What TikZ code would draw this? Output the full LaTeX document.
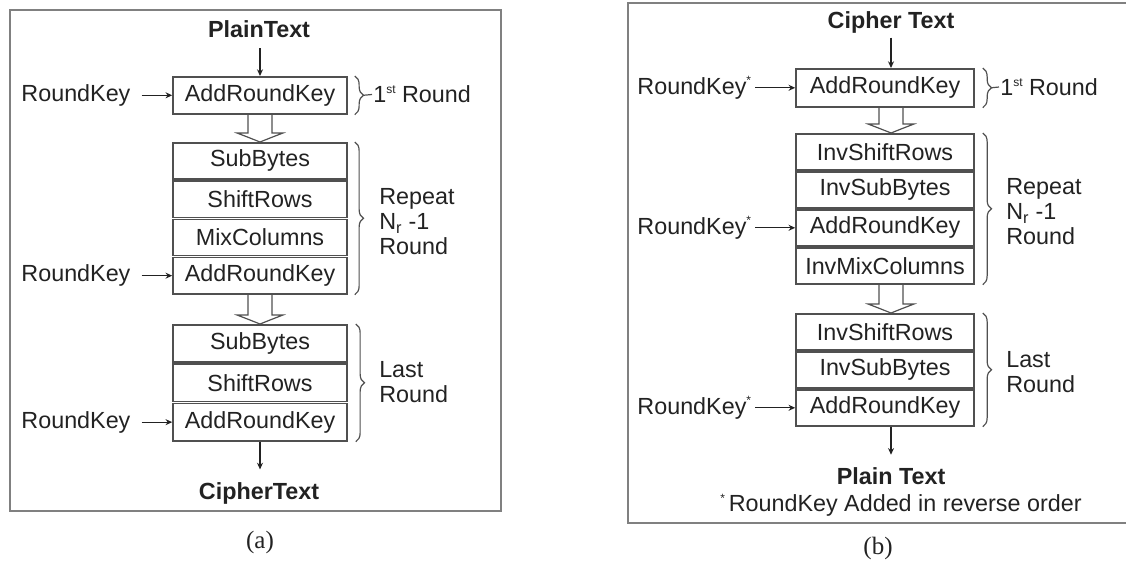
\documentclass[tikz,border=0pt]{standalone}
\usepackage{fontspec}
\setmainfont{Liberation Sans}
\newfontfamily\capfont{Liberation Serif}
\usetikzlibrary{calc,arrows.meta,decorations.pathreplacing}
\definecolor{txt}{HTML}{222222}
\definecolor{boxc}{HTML}{505050}
\definecolor{frm}{HTML}{808080}
\newcommand\bodyf{\fontsize{17.5}{18.75}\selectfont}
\newcommand\tinysup[1]{\raisebox{0.75ex}{\fontsize{9}{9}\selectfont #1}}
\newcommand\holarrow[3]{%
 \draw[hol] ($(#1.south)+(#3-12,0)$) -- ($(#2.north)+(#3-12,-9)$) -- ($(#2.north)+(#3-23,-9)$)
   .. controls ($(#2.north)+(#3-10,-4)$) .. ($(#2.north)+(#3,0)$)
   .. controls ($(#2.north)+(#3+10,-4)$) .. ($(#2.north)+(#3+23,-9)$)
   -- ($(#2.north)+(#3+12,-9)$) -- ($(#1.south)+(#3+12,0)$);}
\begin{document}
\begin{tikzpicture}[x=0.75pt,y=-0.75pt,
  every node/.style={text=txt},
  row/.style={draw=boxc, line width=1.2pt, inner sep=0pt, anchor=north, font=\bodyf},
  rowa/.style={row, minimum width=130.5pt},
  rowb/.style={row, minimum width=133.5pt},
  lbl/.style={font=\bodyf, inner sep=0pt, anchor=west},
  ttl/.style={font=\bodyf\bfseries},
  side/.style={font=\bodyf, inner sep=0pt, anchor=west, align=left},
  capf/.style={font=\capfont\fontsize{18.75}{20}\selectfont},
  arr/.style={draw=txt, line width=0.9pt, -{Stealth[length=5pt,width=4.5pt]}},
  brc/.style={draw=boxc, line width=0.9pt, decorate, decoration={brace, amplitude=6.5pt}},
  tip/.style={draw=boxc, line width=0.9pt},
  hol/.style={draw=boxc, line width=0.9pt},
  frame/.style={draw=frm, line width=1.5pt}]
\useasboundingbox (0,0) rectangle (1126,563);
\clip (0,0) rectangle (1126,563);
% ---------- (a) ----------
\draw[frame] (10,10) rectangle (501,511);
\node[rowa, minimum height=27.75pt] (a1) at (260,76) {AddRoundKey};
\node[rowa, minimum height=27.19pt] (a2a) at (260,142) {SubBytes};
\node[rowa, minimum height=27.19pt] (a2b) at (260,180.25) {ShiftRows};
\node[rowa, minimum height=27.19pt] (a2c) at (260,218.5) {MixColumns};
\node[rowa, minimum height=27.19pt] (a2d) at (260,256.75) {AddRoundKey};
\node[rowa, minimum height=28pt] (a3a) at (260,324) {SubBytes};
\node[rowa, minimum height=28pt] (a3b) at (260,363.33) {ShiftRows};
\node[rowa, minimum height=28pt] (a3c) at (260,402.67) {AddRoundKey};
\node[ttl] (pta) at (259,29) {PlainText};
\node[ttl] (cta) at (259,493) {CipherText};
\draw[arr, shorten <=4.5pt] (a1.north |- pta.south) -- (a1.north);
\draw[arr, shorten >=6pt] (a3c.south) -- (a3c.south |- cta.north);
\node[lbl] (ka1) at ($(a1.west)+(-151,0)$) {RoundKey};
\node[lbl] (ka2) at ($(a2d.west)+(-151,0)$) {RoundKey};
\node[lbl] (ka3) at ($(a3c.west)+(-151,0)$) {RoundKey};
\draw[arr, shorten <=8.25pt] (ka1.east) -- (a1.west);
\draw[arr, shorten <=8.25pt] (ka2.east) -- (a2d.west);
\draw[arr, shorten <=8.25pt] (ka3.east) -- (a3c.west);
\holarrow{a1}{a2a}{0}
\holarrow{a2d}{a3a}{0}
\draw[brc] ($(a1.north east)+(7,0)$) -- ($(a1.south east)+(7,0)$);
\draw[brc] ($(a2a.north east)+(7,0)$) -- ($(a2d.south east)+(7,0)$);
\draw[brc] ($(a3a.north east)+(8,0)$) -- ($(a3c.south east)+(8,0)$);
\node[side] (r1a) at (373,94.5) {1\tinysup{st} Round};
\draw[tip] ($(a1.east)+(15.5,0)$) -- ($(r1a.west)+(-1,0)$);
\node[side] (r2a) at (379,222) {Repeat\\N\textsubscript{r} -1\\Round};
\node[side] (r3a) at (379,382) {Last\\Round};
\node[capf] (capa) at (260,542) {(a)};
% ---------- (b) ----------
\draw[frame] (628,3) rectangle (1140,523);
\node[rowb, minimum height=28.5pt] (b1) at (885,68) {AddRoundKey};
\node[rowb, minimum height=27pt] (b2a) at (885,133) {InvShiftRows};
\node[rowb, minimum height=27pt] (b2b) at (885,171) {InvSubBytes};
\node[rowb, minimum height=27pt] (b2c) at (885,209) {AddRoundKey};
\node[rowb, minimum height=27pt] (b2d) at (885,247) {InvMixColumns};
\node[rowb, minimum height=27pt] (b3a) at (885,313) {InvShiftRows};
\node[rowb, minimum height=27pt] (b3b) at (885,351) {InvSubBytes};
\node[rowb, minimum height=27pt] (b3c) at (885,389) {AddRoundKey};
\node[ttl] (ctb) at (891,22) {Cipher Text};
\node[ttl] (ptb) at (891,476) {Plain Text};
\draw[arr] (ctb.south) -- (ctb.south |- b1.north);
\draw[arr, shorten >=6pt] (ptb.north |- b3c.south) -- (ptb.north);
\node[lbl] (kb1) at ($(b1.west)+(-158,0)$) {RoundKey\tinysup{*}};
\node[lbl] (kb2) at ($(b2c.west)+(-158,0)$) {RoundKey\tinysup{*}};
\node[lbl] (kb3) at ($(b3c.west)+(-158,0)$) {RoundKey\tinysup{*}};
\draw[arr, shorten <=3pt] (kb1.east) -- (b1.west);
\draw[arr, shorten <=3pt] (kb2.east) -- (b2c.west);
\draw[arr, shorten <=3pt] (kb3.east) -- (b3c.west);
\holarrow{b1}{b2a}{6}
\holarrow{b2d}{b3a}{6}
\draw[brc] ($(b1.north east)+(8,0)$) -- ($(b1.south east)+(8,0)$);
\draw[brc] ($(b2a.north east)+(8,0)$) -- ($(b2d.south east)+(8,0)$);
\draw[brc] ($(b3a.north east)+(8,0)$) -- ($(b3c.south east)+(8,0)$);
\node[side] (r1b) at (1000,87) {1\tinysup{st} Round};
\draw[tip] ($(b1.east)+(16.5,0)$) -- ($(r1b.west)+(-1,0)$);
\node[side] (r2b) at (1006,212) {Repeat\\N\textsubscript{r} -1\\Round};
\node[side] (r3b) at (1006,372) {Last\\Round};
\node[lbl] (note) at (720,505) {\tinysup{*}\,RoundKey Added in reverse order};
\node[capf] (capb) at (878,548) {(b)};
\end{tikzpicture}
\end{document}
